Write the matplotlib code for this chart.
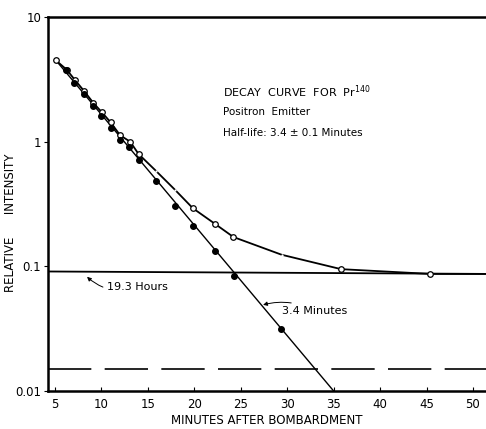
import matplotlib
matplotlib.use("Agg")
import matplotlib.pyplot as plt

# open circles: total activity
open_t = [5.1, 6.26, 7.12, 8.16, 9.13, 10.03, 11.0, 12.0, 13.1, 14.0,
          19.84, 22.24, 24.21, 35.8, 45.4]
open_v = [4.5, 3.79, 3.15, 2.54, 2.05, 1.73, 1.43, 1.13, 1.0, 0.797,
          0.293, 0.219, 0.172, 0.095, 0.087]
# points on the total curve that show only as breaks in the line
gap_t = [15.83, 17.93, 29.4]
gap_v = [0.588, 0.411, 0.124]

# filled circles: after subtracting the 19.3 h component
fill_t = [6.19, 7.08, 8.09, 9.06, 9.99, 11.0, 12.0, 13.0, 14.0,
          15.85, 17.93, 19.84, 22.24, 24.29, 29.35]
fill_v = [3.74, 2.96, 2.42, 1.92, 1.60, 1.30, 1.04, 0.90, 0.72,
          0.483, 0.308, 0.209, 0.134, 0.0844, 0.0313]

# 3.4 minute straight line
fit_t = [5.1, 35.0]
fit_v = [4.5, 0.01]

# 19.3 hour component and background
hours_t = [4.25, 51.4]
hours_v = [0.091, 0.087]
bg_t = [4.25, 51.4]
bg_v = [0.015, 0.015]

xticks = [5, 10, 15, 20, 25, 30, 35, 40, 45, 50]
yticks = [0.01, 0.1, 1, 10]
ylabels = ["0.01", "0.1", "1", "10"]

fig = plt.figure(figsize=(4.86, 4.29), dpi=100)
ax = fig.add_axes([0.0988, 0.0886, 0.9012, 0.8714])

# total curve through open points, running on to the hours line
curve_t = sorted(open_t + gap_t) + [51.4]
curve_v = sorted(open_v + gap_v, reverse=True) + [0.087]
ax.plot(curve_t, curve_v, color="black", lw=1.3, zorder=2)
ax.plot(fit_t, fit_v, color="black", lw=1.0, zorder=2)
ax.plot(hours_t, hours_v, color="black", lw=1.3, zorder=2)
ax.plot(bg_t, bg_v, color="black", lw=1.2, dashes=(26, 8), zorder=2)

ax.plot(open_t, open_v, "o", ms=4, mfc="white", mec="black", mew=0.9, zorder=4)
ax.plot(gap_t, gap_v, "o", ms=1.6, mfc="white", mec="white", mew=0, zorder=3)
ax.plot(fill_t, fill_v, "o", ms=4, mfc="black", mec="black", zorder=4)

ax.set_yscale("log")
ax.set_xlim(4.25, 51.4)
ax.set_ylim(0.01, 10)
ax.set_xticks(xticks)
ax.set_xticklabels([str(x) for x in xticks], fontsize=8.5)
ax.set_yticks(yticks)
ax.set_yticklabels(ylabels, fontsize=8.5)
ax.yaxis.set_minor_locator(matplotlib.ticker.NullLocator())
ax.tick_params(axis="x", direction="in", length=3, width=0.8, pad=5)
ax.tick_params(axis="y", direction="out", length=3, width=0.8, pad=2)

for s in ["left", "bottom", "top"]:
    ax.spines[s].set_linewidth(1.8)
ax.spines["right"].set_visible(False)

ax.set_xlabel("MINUTES AFTER BOMBARDMENT", fontsize=8.5, labelpad=2)
ax.set_ylabel("RELATIVE      INTENSITY", fontsize=8.5)
ax.yaxis.set_label_coords(-0.07, 0.45)

ax.text(23.1, 2.52, r"DECAY  CURVE  FOR  Pr$^{140}$", fontsize=8, va="center")
ax.text(23.1, 1.74, "Positron  Emitter", fontsize=7.5, va="center")
ax.text(23.1, 1.18, "Half-life: 3.4 ± 0.1 Minutes", fontsize=7.5, va="center")

ax.annotate("19.3 Hours", xy=(8.45, 0.0824), xytext=(10.6, 0.0685),
            fontsize=8, va="center",
            arrowprops=dict(arrowstyle="-|>", color="black", lw=0.7,
                            mutation_scale=6, shrinkA=1, shrinkB=0,
                            connectionstyle="arc3,rad=-0.3"))
ax.annotate("3.4 Minutes", xy=(27.4, 0.0491), xytext=(29.46, 0.0439),
            fontsize=8, va="center",
            arrowprops=dict(arrowstyle="-|>", color="black", lw=0.7,
                            mutation_scale=6, shrinkA=1, shrinkB=0,
                            connectionstyle="arc3,rad=0.2"))

fig.savefig("out.png", dpi=100)
